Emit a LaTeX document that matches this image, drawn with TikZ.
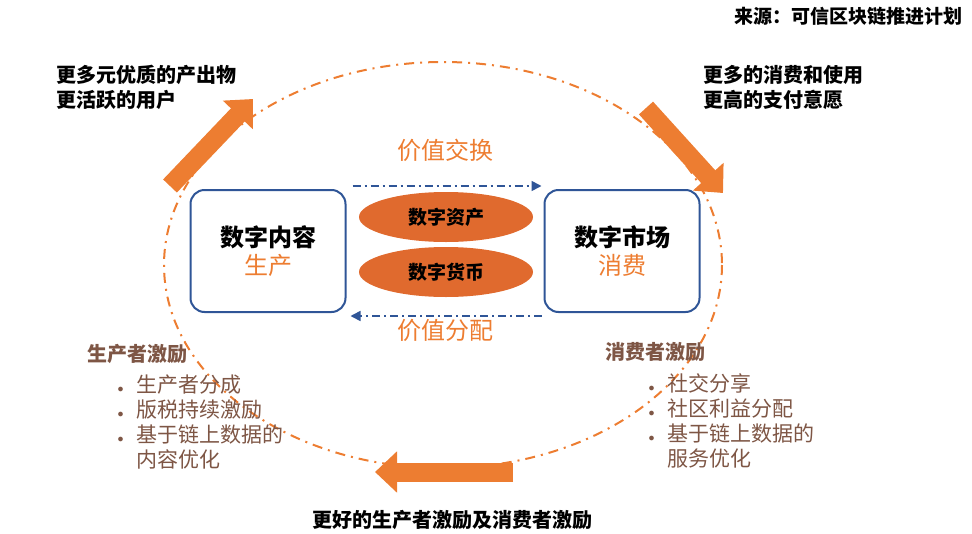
\documentclass[tikz,border=0pt]{standalone}
\usepackage{fontspec}
\setmainfont{Noto Sans CJK SC}
\usepackage{xcolor}
\usepackage{tikz}
\usetikzlibrary{arrows.meta, shapes.geometric, positioning}

\definecolor{ppOrange}{HTML}{ED7D31}
\definecolor{ppRust}{HTML}{E06A2E}
\definecolor{ppBlue}{HTML}{2F5597}
\definecolor{ppBrown}{HTML}{7E5645}

\begin{document}
\begin{tikzpicture}[x=1pt, y=-1pt,
  box/.style={rectangle, rounded corners=14pt, draw=ppBlue, line width=2pt, fill=white,
              minimum width=155pt, minimum height=122pt, align=center,
              font=\fontsize{24}{28}\selectfont},
  coin/.style={ellipse, fill=ppRust, minimum width=174pt, minimum height=50pt,
               font=\fontsize{19}{21}\selectfont\bfseries},
  flow/.style={-{Triangle[length=10pt,width=10pt]}, ppBlue, line width=1.6pt,
               dash pattern=on 8pt off 4pt on 2pt off 4pt},
  bigarr/.style={-{Triangle[length=22pt,width=40pt]}, ppOrange, line width=19pt},
  orbit/.style={ppOrange, line width=2pt, dash pattern=on 10pt off 6pt on 2pt off 6pt},
  hl/.style={font=\fontsize{24}{26}\selectfont, text=ppOrange},
  note/.style={font=\fontsize{20}{25}\selectfont\bfseries, align=left, anchor=north west},
  perk/.style={font=\fontsize{21}{25}\selectfont, text=ppBrown, anchor=north west}
]
\useasboundingbox (0,0) rectangle (972,533);

% cycle
\draw[orbit] (443,265) ellipse [x radius=279, y radius=203];

\node[font=\fontsize{19}{22}\selectfont\bfseries, anchor=east] (src) at (966,16)
  {来源：可信区块链推进计划};

% core
\node[box] (prod) at (268,251) {\textbf{数字内容}\\{\color{ppOrange}生产}};
\node[box] (mkt) at (622,251) {\textbf{数字市场}\\{\color{ppOrange}消费}};
\node[coin] (asset) at (446,217) {数字资产};
\node[coin] (cash) at (446,272) {数字货币};
\node[hl] (swap) at (445,150) {价值交换};
\node[hl] (share) at (445,330) {价值分配};

\draw[flow] ([xshift=6pt,yshift=3pt]prod.north east) -- ([xshift=-2pt,yshift=3pt]mkt.north west);
\draw[flow] ([xshift=-2pt,yshift=-3pt]mkt.south west) -- ([xshift=4pt,yshift=-3pt]prod.south east);

% outer loop
\coordinate (ulA) at (170,186);
\coordinate (ulB) at (253,99);
\coordinate (urA) at (646,108);
\coordinate (urB) at (723,193);
\coordinate (btA) at (513,472);
\coordinate (btB) at (375,472);
\draw[bigarr] (ulA) -- (ulB);
\draw[bigarr] (urA) -- (urB);
\draw[bigarr] (btA) -- (btB);

\node[note] (more) at (53,62) {更多元优质的产出物\\更活跃的用户};
\node[note] (pay) at (700,62) {更多的消费和使用\\更高的支付意愿};
\node[font=\fontsize{20}{24}\selectfont\bfseries] (better) at (452,520)
  {更好的生产者激励及消费者激励};

% incentives
\node[perk, font=\fontsize{20}{24}\selectfont\bfseries] (pinc) at (84,341) {生产者激励};
\node[perk] (plist) at (114,371)
  {\begin{tabular}{@{}l@{\hspace{13pt}}l@{}}
   {\fontsize{12}{12}\selectfont$\bullet$} & 生产者分成\\
   {\fontsize{12}{12}\selectfont$\bullet$} & 版税持续激励\\
   {\fontsize{12}{12}\selectfont$\bullet$} & 基于链上数据的\\
   & 内容优化
   \end{tabular}};
\node[perk, font=\fontsize{20}{24}\selectfont\bfseries] (cinc) at (602,339) {消费者激励};
\node[perk] (clist) at (645,370)
  {\begin{tabular}{@{}l@{\hspace{13pt}}l@{}}
   {\fontsize{12}{12}\selectfont$\bullet$} & 社交分享\\
   {\fontsize{12}{12}\selectfont$\bullet$} & 社区利益分配\\
   {\fontsize{12}{12}\selectfont$\bullet$} & 基于链上数据的\\
   & 服务优化
   \end{tabular}};
\end{tikzpicture}
\end{document}
